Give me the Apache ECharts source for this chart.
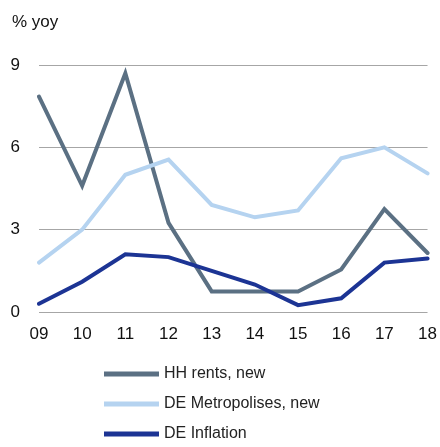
<!DOCTYPE html>
<html>
<head>
<meta charset="utf-8">
<script src="https://cdn.jsdelivr.net/npm/echarts@6/dist/echarts.min.js"></script>
<style>
  html, body { margin: 0; padding: 0; background: #fff; }
  #main { width: 440px; height: 447px; }
</style>
</head>
<body>
<div id="main"></div>
<script>
// years on the x axis
var years = ['09', '10', '11', '12', '13', '14', '15', '16', '17', '18'];

// % yoy
var hhRents = [7.85, 4.6, 8.7, 3.25, 0.75, 0.75, 0.75, 1.55, 3.75, 2.15];
var deMetro = [1.8, 3.0, 5.0, 5.55, 3.9, 3.45, 3.7, 5.6, 6.0, 5.05];
var deInfl = [0.3, 1.1, 2.1, 2.0, 1.5, 1.0, 0.25, 0.5, 1.8, 1.95];

var names = ['HH rents, new', 'DE Metropolises, new', 'DE Inflation'];
var colors = ['#5b7083', '#b5d3f0', '#1c3494'];

var font = 'Liberation Sans';

var chart = echarts.init(document.getElementById('main'));

function mkLine(name, data, color) {
  return {
    name: name,
    type: 'line',
    data: data,
    symbol: 'none',
    lineStyle: { width: 4, color: color, cap: 'round', join: 'miter' },
    itemStyle: { color: color }
  }
}

// one legend per row, stacked
function mkLegend(name, i) {
  return {
    orient: 'horizontal',
    left: 104,
    top: 366 + i * 30,
    padding: 0,
    itemWidth: 55,
    itemHeight: 5,
    icon: 'rect',
    itemStyle: { borderWidth: 0 },
    textStyle: { fontSize: 16, color: '#222', fontFamily: font },
    data: [name]
  }
}

var option = {
  animation: false,
  backgroundColor: '#fff',
  textStyle: { fontFamily: font },
  title: {
    text: '% yoy',
    left: 7,
    top: 9,
    textStyle: { fontSize: 17, fontWeight: 'normal', color: '#111', fontFamily: font }
  },
  grid: { left: 39, right: 11, top: 65, bottom: 135 },
  legend: names.map(mkLegend),
  xAxis: {
    type: 'category',
    data: years,
    boundaryGap: false,
    axisLine: { show: false },
    axisTick: { show: false },
    axisLabel: { fontSize: 17, color: '#111', margin: 14, fontFamily: font }
  },
  yAxis: {
    type: 'value',
    min: 0,
    max: 9,
    interval: 3,
    axisLine: { show: false },
    axisTick: { show: false },
    axisLabel: { fontSize: 17, color: '#111', margin: 19, fontFamily: font },
    splitLine: { lineStyle: { color: '#a6a6a6', width: 1 } }
  },
  series: [
    mkLine(names[0], hhRents, colors[0]),
    mkLine(names[1], deMetro, colors[1]),
    mkLine(names[2], deInfl, colors[2])
  ]
};

chart.setOption(option);
</script>
</body>
</html>
